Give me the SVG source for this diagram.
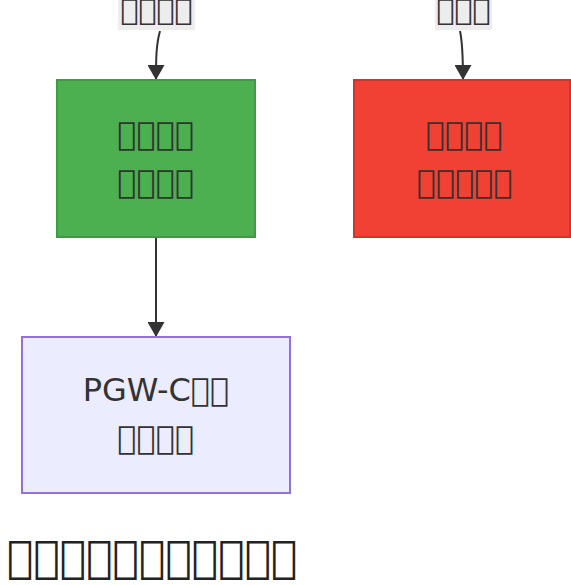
<svg xmlns="http://www.w3.org/2000/svg" width="571" height="585" viewBox="0 0 571 585">
<defs>
<marker id="arrow" viewBox="0 0 15 17" refX="15" refY="8.5" markerUnits="userSpaceOnUse" markerWidth="15" markerHeight="17" orient="auto">
<path d="M0,0 L15,8.5 L0,17 z" fill="#333"/>
</marker>
</defs>
<style>
text{font-family:"DejaVu Sans",sans-serif;fill:#333;text-anchor:middle}
.node text{font-size:32px}
.lbl text{font-size:30px}
.lbl rect{fill:#e8e8e8;fill-opacity:0.8}
.edge{fill:none;stroke:#333;stroke-width:2}
.title{font-size:44px;text-anchor:start;fill:#222}
</style>
<rect width="571" height="585" fill="#fff"/>
<g id="connectors">
<path class="edge" d="M160,31 C156,45 156,60 156,80" marker-end="url(#arrow)"/>
<path class="edge" d="M460,31 C463,45 463,60 463,80" marker-end="url(#arrow)"/>
<path class="edge" d="M156,237 L156,337" marker-end="url(#arrow)"/>
</g>
<g id="label-1" class="lbl">
<rect x="118" y="-10" width="77" height="40"/>
<text x="156.5" y="20">&#xE000;&#xE000;&#xE000;&#xE000;</text>
</g>
<g id="label-2" class="lbl">
<rect x="435" y="-10" width="57" height="40"/>
<text x="463.5" y="20">&#xE000;&#xE000;&#xE000;</text>
</g>
<g id="node-green" class="node">
<rect x="57" y="80" width="198" height="157" fill="#4caf50" stroke="#3e9a43" stroke-width="2"/>
<text x="156" y="145">&#xE000;&#xE000;&#xE000;&#xE000;</text>
<text x="156" y="193">&#xE000;&#xE000;&#xE000;&#xE000;</text>
</g>
<g id="node-red" class="node">
<rect x="354" y="80" width="216" height="157" fill="#f04134" stroke="#d0352b" stroke-width="2"/>
<text x="464.5" y="145">&#xE000;&#xE000;&#xE000;&#xE000;</text>
<text x="465" y="193">&#xE000;&#xE000;&#xE000;&#xE000;&#xE000;</text>
</g>
<g id="node-purple" class="node">
<rect x="22" y="337" width="268" height="156" fill="#ececff" stroke="#9370db" stroke-width="2"/>
<text x="156" y="401">PGW-C&#xE000;&#xE000;</text>
<text x="156" y="449">&#xE000;&#xE000;&#xE000;&#xE000;</text>
</g>
<g id="title">
<text class="title" x="7" y="572">&#xE000;&#xE000;&#xE000;&#xE000;&#xE000;&#xE000;&#xE000;&#xE000;&#xE000;&#xE000;&#xE000;</text>
</g>
</svg>
